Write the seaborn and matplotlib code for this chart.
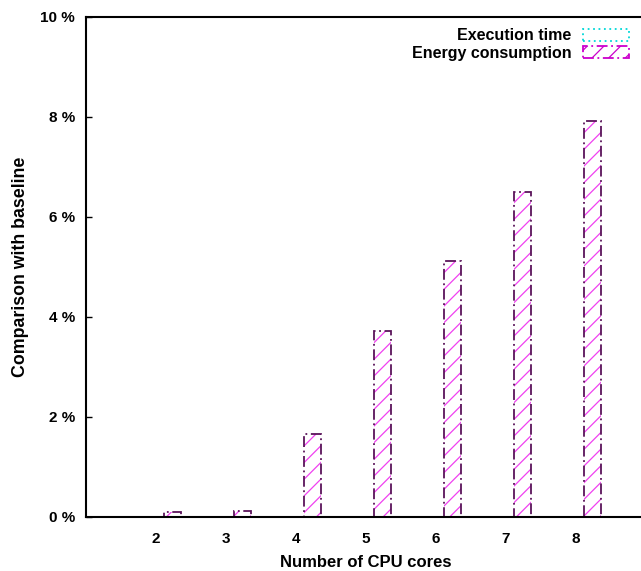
import matplotlib
matplotlib.use("Agg")
import matplotlib.pyplot as plt
from matplotlib.patches import Patch
import seaborn as sns
import pandas as pd

cores = [2, 3, 4, 5, 6, 7, 8]
execution_time = [0, 0, 0, 0, 0, 0, 0]
energy_consumption = [0.11, 0.13, 1.66, 3.72, 5.12, 6.50, 7.92]
series_names = ["Execution time", "Energy consumption"]
y_ticks = [0, 2, 4, 6, 8, 10]
y_tick_labels = ["0 %", "2 %", "4 %", "6 %", "8 %", "10 %"]

sns.set_style("ticks")
plt.rcParams["font.family"] = ["Liberation Sans", "DejaVu Sans"]
plt.rcParams["font.weight"] = "bold"
plt.rcParams["hatch.linewidth"] = 0.9
for key in ["text.color", "axes.labelcolor", "xtick.color", "ytick.color"]:
    plt.rcParams[key] = "black"

df = pd.DataFrame({
    "cores": cores * 2,
    "value": execution_time + energy_consumption,
    "series": [series_names[0]] * len(cores) + [series_names[1]] * len(cores),
})

fig = plt.figure(figsize=(6.41, 5.71), dpi=100)
ax = fig.add_axes([86 / 641, 54 / 571, 560 / 641, 500 / 571])

HATCH_COLOR = "#f040f0"
EXEC_EDGE = "#00d8d8"
ENERGY_EDGE = "#5a145a"
DOTTED = (0, (1, 2))
DASHDOT = (0, (6, 2, 1, 2))

n = len(cores)
bar_kw = dict(data=df, x="cores", y="value", hue="series", hue_order=series_names,
              native_scale=True, width=0.48, errorbar=None, legend=False,
              palette=["white", "white"], ax=ax)

# first pass: hatch fill of the bars (hatch takes the edge colour)
sns.barplot(**bar_kw)
fill_patches = list(ax.patches)
for i, p in enumerate(fill_patches):
    p.set_x(p.get_x() + 0.12)
    p.set_facecolor("none")
    p.set_linewidth(0)
    if i >= n:
        p.set_edgecolor(HATCH_COLOR)
        p.set_hatch("//")
    else:
        p.set_edgecolor(EXEC_EDGE)

# second pass: dashed outlines on top of the hatch
sns.barplot(**bar_kw)
for i, p in enumerate(ax.patches[len(fill_patches):]):
    p.set_x(p.get_x() + 0.12)
    p.set_facecolor("none")
    p.set_linewidth(1.3)
    if i >= n:
        p.set_edgecolor(ENERGY_EDGE)
        p.set_linestyle(DASHDOT)
    else:
        p.set_edgecolor(EXEC_EDGE)
        p.set_linestyle(DOTTED)

ax.set_xlim(1, 9)
ax.set_ylim(0, 10)
ax.set_xticks(cores)
ax.set_xticklabels([str(c) for c in cores])
ax.set_yticks(y_ticks)
ax.set_yticklabels(y_tick_labels)
ax.tick_params(axis="x", length=0, pad=11, labelsize=11, colors="black")
ax.tick_params(axis="y", direction="in", length=4, width=1, pad=8, labelsize=11,
               colors="black")
for side in ["left", "top", "bottom", "right"]:
    ax.spines[side].set_linewidth(1.5)
    ax.spines[side].set_color("black")

ax.set_xlabel("Number of CPU cores", fontsize=12, fontweight="bold", labelpad=6,
              color="black")
ax.set_ylabel("Comparison with baseline", fontsize=12.8, fontweight="bold", labelpad=8,
              color="black")

handles = [
    Patch(facecolor="none", edgecolor=EXEC_EDGE, linestyle=DOTTED, linewidth=1.3,
          label=series_names[0]),
    Patch(facecolor="none", edgecolor="#cc00cc", linestyle=DASHDOT, linewidth=1.3,
          hatch="//", label=series_names[1]),
]
leg = ax.legend(handles=handles, loc="upper right", bbox_to_anchor=(0.995, 1.006),
                frameon=False, markerfirst=False, handlelength=2.9, handleheight=0.75,
                labelspacing=0.15, handletextpad=0.7,
                prop={"weight": "bold", "size": 11.5})
for t in leg.get_texts():
    t.set_color("black")

fig.savefig("out.png", dpi=100)
